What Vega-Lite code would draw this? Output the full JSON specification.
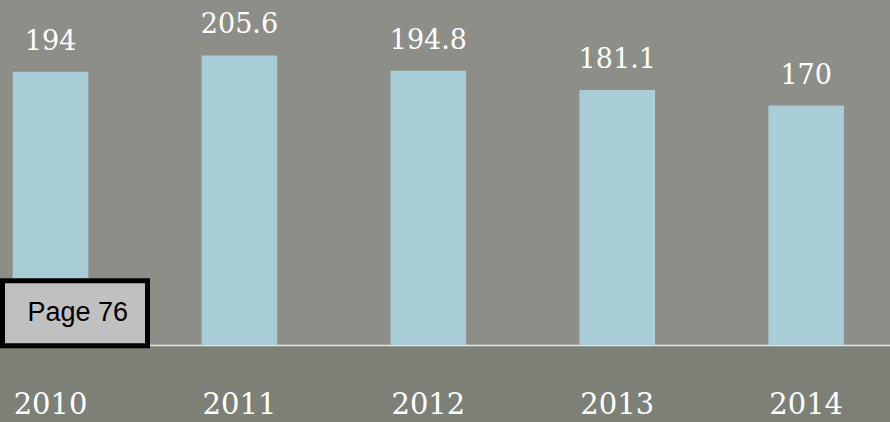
{
  "$schema": "https://vega.github.io/schema/vega-lite/v6.json",
  "width": 890,
  "height": 345,
  "autosize": "none",
  "padding": {"left": 0, "top": 0, "right": 0, "bottom": 77},
  "background": "#7d8077",
  "view": {"fill": "#8e8e88", "stroke": null},
  "data": {
    "values": [
      {"year": "2010", "value": 194},
      {"year": "2011", "value": 205.6},
      {"year": "2012", "value": 194.8},
      {"year": "2013", "value": 181.1},
      {"year": "2014", "value": 170}
    ]
  },
  "encoding": {
    "x": {
      "field": "year",
      "type": "nominal",
      "sort": null,
      "scale": {"range": [-43.9, 900.6], "paddingInner": 0.6, "paddingOuter": 0.3},
      "axis": {
        "title": null,
        "ticks": false,
        "tickSize": 0,
        "labelAngle": 0,
        "labelPadding": 68,
        "labelBaseline": "alphabetic",
        "labelFont": "DejaVu Serif",
        "labelFontSize": 29,
        "labelColor": "#ffffff",
        "domainColor": "#e4e4e4",
        "domainWidth": 1.5,
        "grid": false
      }
    },
    "y": {
      "field": "value",
      "type": "quantitative",
      "scale": {"domain": [0, 245], "nice": false},
      "axis": null
    }
  },
  "layer": [
    {
      "mark": {"type": "bar"},
      "encoding": {
        "color": {
          "datum": "Page 76",
          "type": "nominal",
          "scale": {"range": ["#a8cdd6"]},
          "legend": {
            "orient": "none",
            "legendX": 2.5,
            "legendY": 280.8,
            "title": null,
            "fillColor": "#c0c0c0",
            "strokeColor": "#000000",
            "padding": 19,
            "cornerRadius": 0,
            "symbolSize": 0,
            "symbolOpacity": 0,
            "symbolStrokeWidth": 0,
            "labelOffset": -21,
            "labelFont": "Liberation Sans",
            "labelFontSize": 27,
            "labelColor": "#000000",
            "labelLimit": 400,
            "encode": {"legend": {"update": {"strokeWidth": {"value": 5}}}}
          }
        }
      }
    },
    {
      "mark": {
        "type": "text",
        "baseline": "alphabetic",
        "dy": -22,
        "font": "DejaVu Serif",
        "fontSize": 27,
        "color": "#ffffff"
      },
      "encoding": {
        "text": {"field": "value", "type": "quantitative"}
      }
    }
  ]
}
